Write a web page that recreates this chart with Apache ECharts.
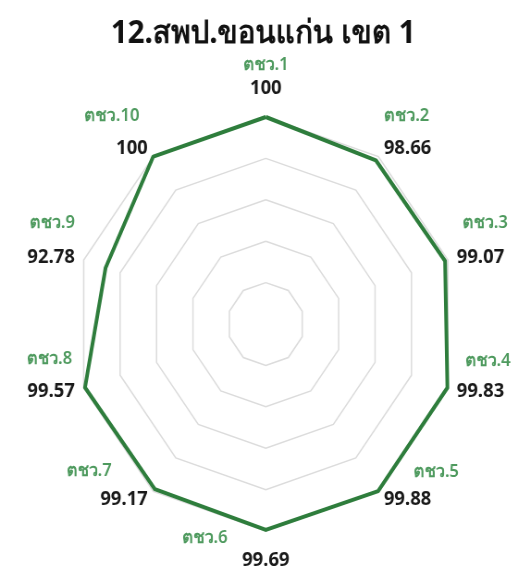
<!DOCTYPE html>
<html>
<head>
<meta charset="utf-8">
<script src="https://cdn.jsdelivr.net/npm/echarts@6/dist/echarts.min.js"></script>
<style>
html, body { margin: 0; padding: 0; background: #fff; overflow: hidden; }
/* the source picture is a little narrower than tall, so squeeze the whole chart */
#chart { width: 569px; height: 586px; transform: scaleX(0.925); transform-origin: 0 0; }
</style>
</head>
<body>
<div id="chart"></div>
<script>
var titleText = '12.สพป.ขอนแก่น เขต 1';
var names = ['ตชว.1', 'ตชว.2', 'ตชว.3', 'ตชว.4', 'ตชว.5', 'ตชว.6', 'ตชว.7', 'ตชว.8', 'ตชว.9', 'ตชว.10'];
var values = [100, 98.66, 99.07, 99.83, 99.88, 99.69, 99.17, 99.57, 92.78, 100];
var axisMin = 40;
var axisMax = 100;

// label tweaks, clockwise from the top
var nameShift = [0, 0, 6, 9, 32, -66, -39, -3, 0, -9];
var lineGap = [23, 33, 34, 30, 28, 22, 29, 32, 34, 33];
var valueShift = [-19, 0, 0, 0, 0, 19, 0, 0, 0, 0];

var green = '#2e7d3c';
var nameGreen = '#4e9a5e';
var labelFont = '"Noto Sans", sans-serif';

// echarts lays radar axes out anticlockwise, the picture goes clockwise
var order = [0];
for (var k = names.length - 1; k > 0; k--) order.push(k);

var rich = {};
for (var i = 0; i < names.length; i++) {
	var d = lineGap[i];
	var s = nameShift[i];
	var side = (i == 0 || i == 5) ? 'center' : (i < 5 ? 'left' : 'right');
	var pl = 0, pr = 0;
	if (side == 'center') {
		if (s > 0) pl = 2 * s; else pr = -2 * s;
	} else {
		if (s > 0) pl = s; else pr = -s;
	}
	rich['n' + i] = { color: nameGreen, fontSize: 18, fontFamily: labelFont, fontWeight: 600, lineHeight: d, padding: [0, pr, 0, pl] };
	rich['v' + i] = { color: '#1a1a1a', fontSize: 20, fontFamily: labelFont, fontWeight: 'bold', lineHeight: d };
	var o = valueShift[i];
	var spaceTop = 0, spaceBottom = 0;
	if (2 * o - d >= 0) spaceTop = 2 * o - d; else spaceBottom = d - 2 * o;
	rich['t' + i] = { fontSize: 1, lineHeight: spaceTop };
	rich['b' + i] = { fontSize: 1, lineHeight: spaceBottom };
}

function labelText(name) {
	var i = names.indexOf(name);
	var txt = '';
	if (rich['t' + i].lineHeight > 0) txt += '{t' + i + '| }\n';
	txt += '{n' + i + '|' + name + '}\n{v' + i + '|' + values[i] + '}';
	if (rich['b' + i].lineHeight > 0) txt += '\n{b' + i + '| }';
	return txt;
}

var indicator = [];
var seriesData = [];
for (var k = 0; k < order.length; k++) {
	indicator.push({ name: names[order[k]], min: axisMin, max: axisMax });
	seriesData.push(values[order[k]]);
}

var chart = echarts.init(document.getElementById('chart'));
chart.setOption({
	animation: false,
	backgroundColor: '#fff',
	title: {
		text: titleText,
		left: 'center',
		top: 13,
		textStyle: { color: '#111', fontSize: 32, fontWeight: 'bold', fontFamily: labelFont }
	},
	radar: {
		center: ['50.5%', 324],
		radius: 207,
		startAngle: 90,
		splitNumber: 5,
		shape: 'polygon',
		nameGap: 10,
		indicator: indicator,
		axisName: {
			verticalAlign: 'middle',
			formatter: labelText,
			rich: rich
		},
		axisLine: { show: false },
		axisTick: { show: false },
		axisLabel: { show: false },
		splitArea: { show: false },
		splitLine: { lineStyle: { color: '#dcdcdc', width: 1.5 } }
	},
	series: [{
		type: 'radar',
		symbol: 'none',
		lineStyle: { color: green, width: 4 },
		data: [{ value: seriesData, name: titleText }]
	}]
});
</script>
</body>
</html>
